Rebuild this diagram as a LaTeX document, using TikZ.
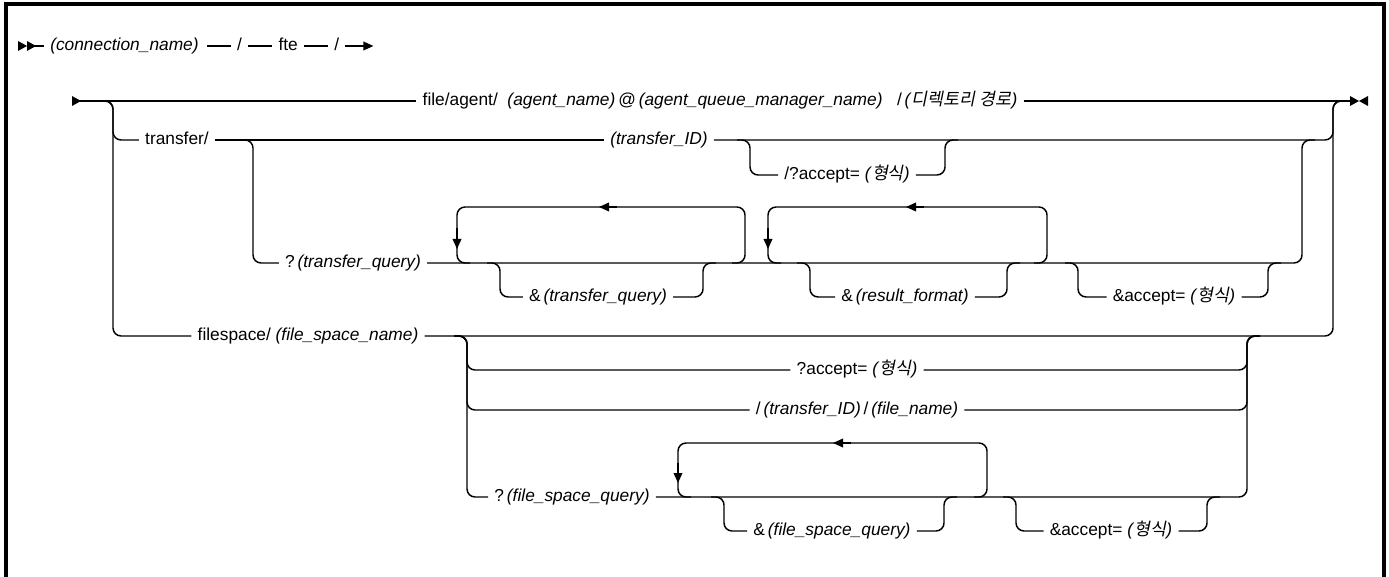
\documentclass[tikz,border=0pt]{standalone}
\usepackage{fontspec}
\setmainfont{Liberation Sans}
\newfontfamily\kr[FakeSlant=0.2]{Noto Sans CJK KR}
\usetikzlibrary{arrows.meta,calc}
\newcommand{\fmt}{\textit{(}{\kr 형식}\textit{)}}
\begin{document}
\begin{tikzpicture}[x=0.75pt,y=-0.75pt,
  rail/.style={line width=1.1pt, rounded corners=6pt},
  txt/.style={inner xsep=4.5pt, inner ysep=0pt, text height=9.5pt, text depth=2.5pt,
              font=\fontsize{13}{15}\selectfont},
  it/.style={font=\fontsize{13}{15}\selectfont\itshape},
  head/.style={line width=1.1pt,-{Triangle[length=7.5pt,width=6.5pt]}},
]
\useasboundingbox (0,0) rectangle (1389,577);
% outer frame (open at the bottom)
\draw[line width=2.3pt] (6,600) -- (6,4) -- (1384,4) -- (1384,600);

% ---- first line: connection prefix ----
\fill (18,41) -- (27,46) -- (18,51) -- cycle;
\fill (27,41) -- (36,46) -- (27,51) -- cycle;
\coordinate (p0) at (30,46);
\node[txt,it,anchor=west] (cn) at (44,46) {(connection\_name)};
\draw[rail] (p0) -- (cn.west);
\node[txt,anchor=west] (s1) at ($(cn.east)+(26,0)$) {/};
\node[txt,anchor=west] (fte) at ($(s1.east)+(24,0)$) {fte};
\node[txt,anchor=west] (s2) at ($(fte.east)+(24,0)$) {/};
\coordinate (p1) at ($(s2.east)+(28,0)$);
\draw[rail] ($(cn.east)+(2,0)$) -- (s1.west);
\draw[rail] (s1.east) -- (fte.west);
\draw[rail] (fte.east) -- (s2.west);
\draw[head] (s2.east) -- (p1);

% ---- main line ----
\fill (72,96) -- (81,101) -- (72,106) -- cycle;
\coordinate (m0) at (78,101);
\coordinate (m1) at (1350,101);
\node[txt] (fa) at (720,101) {file/agent/\ \ \textit{(agent\_name)}\,@\,\textit{(agent\_queue\_manager\_name)}\ \ \ /\,\textit{(}{\kr 디렉토리 경로}\textit{)}};
\draw[rail] (m0) -- (fa.west);
\draw[rail] (fa.east) -- (m1);
\fill (1350,96) -- (1359,101) -- (1350,106) -- cycle;
\fill (1368,96) -- (1359,101) -- (1368,106) -- cycle;

% ---- transfer/ branch ----
\node[txt] (tr) at (177,140) {transfer/};
\node[txt,it] (tid) at (659,140) {(transfer\_ID)};
\draw[rail] (100,101) -- (113,101) -- (113,140) -- (tr.west);
\draw[rail] (tr.east) -- (tid.west);
\draw[rail] (tid.east) -- (1333,140) -- (1333,101) -- (1346,101);

\node[txt] (ta) at (847,175) {/?accept= \fmt};
\draw[rail] (737,140) -- (750,140) -- (750,175) -- (ta.west);
\draw[rail] (ta.east) -- (945,175) -- (945,140) -- (958,140);

\node[txt] (tq) at (353,263) {?\,\textit{(transfer\_query)}};
\draw[rail] (240,140) -- (253,140) -- (253,263) -- (tq.west);
\draw[rail] (tq.east) -- (1302,263) -- (1302,140) -- (1315,140);

% repeat loop 1
\draw[rail] (732,263) -- (745,263) -- (745,207) -- (457,207) -- (457,263) -- (470,263);
\draw[head] (617,207) -- (599,207);
\draw[head] (457,228) -- (457,249);
\node[txt] (tq2) at (598,297) {\&\,\textit{(transfer\_query)}};
\draw[rail] (487,263) -- (500,263) -- (500,297) -- (tq2.west);
\draw[rail] (tq2.east) -- (703,297) -- (703,263) -- (716,263);

% repeat loop 2
\draw[rail] (1034,263) -- (1047,263) -- (1047,207) -- (768,207) -- (768,263) -- (781,263);
\draw[head] (924,207) -- (906,207);
\draw[head] (768,228) -- (768,249);
\node[txt] (rf) at (905,297) {\&\,\textit{(result\_format)}};
\draw[rail] (797,263) -- (810,263) -- (810,297) -- (rf.west);
\draw[rail] (rf.east) -- (1007,297) -- (1007,263) -- (1020,263);

\node[txt] (ta2) at (1174,297) {\&accept= \fmt};
\draw[rail] (1065,263) -- (1078,263) -- (1078,297) -- (ta2.west);
\draw[rail] (ta2.east) -- (1268,297) -- (1268,263) -- (1281,263);

% ---- filespace/ branch ----
\node[txt] (fs) at (308,336) {filespace/ \textit{(file\_space\_name)}};
\draw[rail] (100,101) -- (113,101) -- (113,336) -- (fs.west);
\draw[rail] (fs.east) -- (1333,336) -- (1333,101) -- (1346,101);

\node[txt] (fa2) at (857,370) {?accept= \fmt};
\draw[rail] (454,336) -- (467,336) -- (467,370) -- (fa2.west);
\draw[rail] (fa2.east) -- (1247,370) -- (1247,336) -- (1260,336);

\node[txt] (ft) at (857,410) {/\,\textit{(transfer\_ID)}\,/\,\textit{(file\_name)}};
\draw[rail] (454,336) -- (467,336) -- (467,410) -- (ft.west);
\draw[rail] (ft.east) -- (1247,410) -- (1247,336) -- (1260,336);

\node[txt] (fq) at (572,497) {?\,\textit{(file\_space\_query)}};
\draw[rail] (454,336) -- (467,336) -- (467,497) -- (fq.west);
\draw[rail] (fq.east) -- (1247,497) -- (1247,336) -- (1260,336);

% repeat loop 3
\draw[rail] (974,497) -- (987,497) -- (987,443) -- (678,443) -- (678,497) -- (691,497);
\draw[head] (851,443) -- (833,443);
\draw[head] (678,463) -- (678,483);
\node[txt] (fq2) at (832,531) {\&\,\textit{(file\_space\_query)}};
\draw[rail] (711,497) -- (724,497) -- (724,531) -- (fq2.west);
\draw[rail] (fq2.east) -- (944,531) -- (944,497) -- (957,497);

\node[txt] (fa3) at (1111,531) {\&accept= \fmt};
\draw[rail] (1003,497) -- (1016,497) -- (1016,531) -- (fa3.west);
\draw[rail] (fa3.east) -- (1207,531) -- (1207,497) -- (1220,497);
\end{tikzpicture}
\end{document}
